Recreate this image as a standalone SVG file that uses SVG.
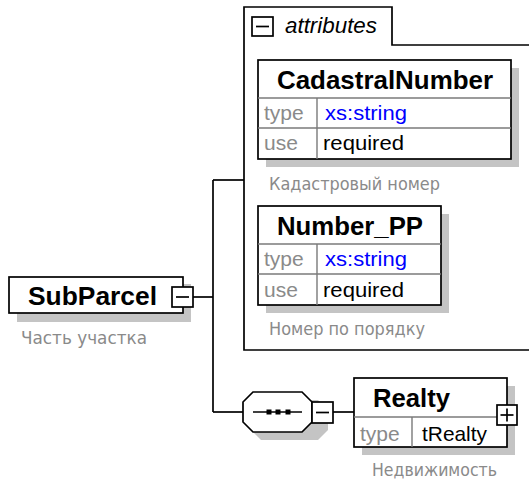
<svg xmlns="http://www.w3.org/2000/svg" width="529" height="486" viewBox="0 0 529 486">
<style>
.box{fill:#fff;stroke:#000;stroke-width:1.7}
.sh{fill:#c4c4c4}
.div{stroke:#7a7a7a;stroke-width:1.4;fill:none}
.ln{stroke:#000;stroke-width:1.7;fill:none}
.hd{font-family:"Liberation Sans",Arial,sans-serif;font-weight:bold;font-size:26px;fill:#000}
.lb{font-family:"Liberation Sans",Arial,sans-serif;font-size:21px;fill:#8a8a8a}
.vb{font-family:"Liberation Sans",Arial,sans-serif;font-size:21px;fill:#0000ff}
.vk{font-family:"Liberation Sans",Arial,sans-serif;font-size:21px;fill:#000}
.ds{font-family:"DejaVu Sans","Liberation Sans",sans-serif;font-size:17px;fill:#8a8a8a}
.it{font-family:"Liberation Sans",Arial,sans-serif;font-style:italic;font-size:22px;fill:#000}
.btn{fill:#fff;stroke:#000;stroke-width:1.7}
</style>
<rect width="529" height="486" fill="#fff"/>

<g id="connectors">
<line class="ln" x1="193" y1="297" x2="213" y2="297"/>
<line class="ln" x1="213" y1="180" x2="213" y2="412"/>
<line class="ln" x1="213" y1="180" x2="244" y2="180"/>
<line class="ln" x1="213" y1="412" x2="243" y2="412"/>
<line class="ln" x1="333" y1="412" x2="354" y2="412"/>
</g>

<g id="SubParcel">
<rect class="sh" x="17" y="284" width="174" height="38"/>
<rect class="box" x="9" y="277" width="174" height="36"/>
<text class="hd" x="28" y="305" textLength="129" lengthAdjust="spacingAndGlyphs">SubParcel</text>
<rect class="btn" x="172" y="287" width="21" height="20"/>
<line class="ln" x1="176" y1="297" x2="189" y2="297"/>
<text class="ds" x="21" y="344" textLength="126" lengthAdjust="spacingAndGlyphs">Часть участка</text>
</g>

<g id="attributes">
<path class="ln" d="M529,350 L244,350 L244,7 L392,7 L392,45 L529,45"/>
<rect class="btn" x="252" y="17" width="21" height="19"/>
<line class="ln" x1="256" y1="26.5" x2="269" y2="26.5"/>
<text class="it" x="285" y="33" textLength="92" lengthAdjust="spacingAndGlyphs">attributes</text>
</g>

<g id="CadastralNumber">
<rect class="sh" x="266" y="68" width="253" height="99"/>
<rect class="box" x="258" y="60" width="253" height="99"/>
<line class="div" x1="258" y1="98" x2="511" y2="98"/>
<line class="div" x1="258" y1="128" x2="511" y2="128"/>
<line class="div" x1="317" y1="98" x2="317" y2="159"/>
<text class="hd" x="277" y="89" textLength="216" lengthAdjust="spacingAndGlyphs">CadastralNumber</text>
<text class="lb" x="264" y="120">type</text>
<text class="vb" x="325" y="120" textLength="82" lengthAdjust="spacingAndGlyphs">xs:string</text>
<text class="lb" x="264" y="150">use</text>
<text class="vk" x="323" y="150" textLength="81" lengthAdjust="spacingAndGlyphs">required</text>
<text class="ds" x="269" y="190" textLength="171" lengthAdjust="spacingAndGlyphs">Кадастровый номер</text>
</g>

<g id="Number_PP">
<rect class="sh" x="266" y="214" width="183" height="99"/>
<rect class="box" x="258" y="206" width="183" height="99"/>
<line class="div" x1="258" y1="244" x2="441" y2="244"/>
<line class="div" x1="258" y1="274" x2="441" y2="274"/>
<line class="div" x1="317" y1="244" x2="317" y2="305"/>
<text class="hd" x="277" y="235" textLength="146" lengthAdjust="spacingAndGlyphs">Number_PP</text>
<text class="lb" x="264" y="266">type</text>
<text class="vb" x="325" y="266" textLength="82" lengthAdjust="spacingAndGlyphs">xs:string</text>
<text class="lb" x="264" y="297">use</text>
<text class="vk" x="323" y="297" textLength="81" lengthAdjust="spacingAndGlyphs">required</text>
<text class="ds" x="269" y="335" textLength="156" lengthAdjust="spacingAndGlyphs">Номер по порядку</text>
</g>

<g id="sequence">
<polygon class="sh" points="261,400 318,400 328,410 328,430 318,440 261,440 251,430 251,410"/>
<polygon class="box" points="253,392 302,392 312,402 312,422 302,432 253,432 243,422 243,402"/>
<line class="ln" x1="253" y1="412" x2="302" y2="412"/>
<rect x="266.5" y="409.5" width="5" height="5" fill="#000"/>
<rect x="275.5" y="409.5" width="5" height="5" fill="#000"/>
<rect x="285.5" y="409.5" width="5" height="5" fill="#000"/>
<rect class="btn" x="312" y="402" width="21" height="21"/>
<line class="ln" x1="316" y1="412.5" x2="329" y2="412.5"/>
</g>

<g id="Realty">
<rect class="sh" x="362" y="386" width="153" height="69"/>
<rect class="box" x="354" y="378" width="153" height="69"/>
<line class="div" x1="354" y1="417" x2="507" y2="417"/>
<line class="div" x1="412" y1="417" x2="412" y2="447"/>
<text class="hd" x="373" y="407" textLength="77" lengthAdjust="spacingAndGlyphs">Realty</text>
<text class="lb" x="360" y="441">type</text>
<text class="vk" x="422" y="441" textLength="65" lengthAdjust="spacingAndGlyphs">tRealty</text>
<rect class="btn" x="497" y="405" width="20" height="20"/>
<line class="ln" x1="500.5" y1="415" x2="513.5" y2="415"/>
<line class="ln" x1="507" y1="408.5" x2="507" y2="421.5"/>
<text class="ds" x="372" y="476" textLength="125" lengthAdjust="spacingAndGlyphs">Недвижимость</text>
</g>
</svg>
